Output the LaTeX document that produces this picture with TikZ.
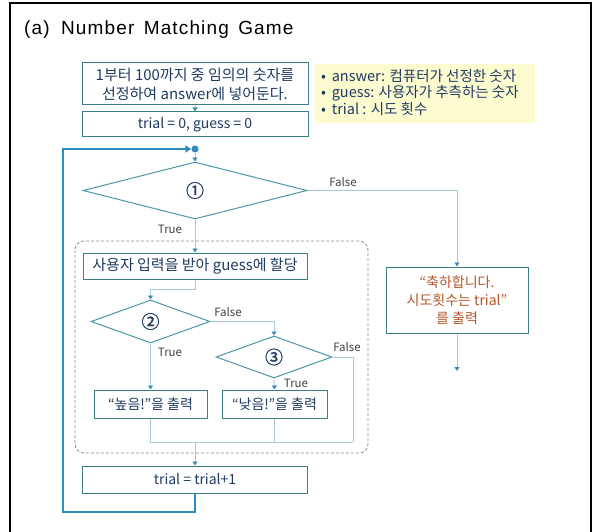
\documentclass[tikz,border=0pt]{standalone}
\usepackage{fontspec}
\setmainfont{Noto Sans CJK KR}
\newfontfamily\titlefont{Liberation Sans}[LetterSpace=6]
\newfontfamily\circfont{Noto Sans CJK KR}[FakeBold=1.2]
\usetikzlibrary{shapes.geometric,arrows.meta}

\definecolor{boxline}{HTML}{3E7D8A}
\definecolor{dialine}{HTML}{4C97A8}
\definecolor{flowline}{HTML}{A9CAD4}
\definecolor{tipblue}{HTML}{3A8DB8}
\definecolor{loopblue}{HTML}{2F8BBF}
\definecolor{navy}{HTML}{1F3B63}
\definecolor{labelgray}{HTML}{404040}
\definecolor{noteyellow}{HTML}{FDFBD0}
\definecolor{brownred}{HTML}{B5562A}
\definecolor{dashgray}{HTML}{8094A2}

\tikzset{
  procbox/.style={draw=boxline, line width=1pt, fill=white, rectangle,
    inner sep=0pt, font=\fontsize{14}{18}\selectfont, text=navy, align=center},
  bigtext/.style={font=\fontsize{15}{19}\selectfont},
  decision/.style={draw=dialine, line width=1pt, diamond, inner sep=0pt,
    font=\circfont\fontsize{18}{18}\selectfont, text=navy},
  flow/.style={draw=flowline, line width=0.8pt},
  tip/.style={-{Triangle[width=5pt,length=4pt,color=tipblue]}},
  lbl/.style={font=\fontsize{11.5}{11.5}\selectfont, text=labelgray, inner sep=0pt},
  loopline/.style={draw=loopblue, line width=2.2pt,
    -{Triangle[width=7pt,length=6pt]}},
}

\begin{document}
\begin{tikzpicture}[x=1pt,y=-1pt]
\useasboundingbox (0,0) rectangle (594,532);

% outer frame, open at the bottom
\draw[black, line width=1.5pt] (10,533) -- (10,3) -- (591,3) -- (591,533);

% title
\node[anchor=west, inner sep=0pt, font=\titlefont\fontsize{19}{19}\selectfont]
  (title) at (24,30) {(a)\hspace{5pt} Number\hspace{3pt} Matching\hspace{3pt} Game};

% initialisation
\node[procbox, bigtext, minimum width=226pt, minimum height=42pt] (box1) at (195,84)
  {1부터 100까지 중 임의의 숫자를\\선정하여 answer에 넣어둔다.};
\node[procbox, minimum width=226pt, minimum height=25pt] (box2) at (195,124.5)
  {trial = 0, guess = 0};

% legend of variables
\node[fill=noteyellow, minimum width=220pt, minimum height=59pt, inner sep=0pt,
  anchor=north west] (note) at (315,64) {};
\node[anchor=north west, inner sep=0pt, align=left, text=navy,
  font=\fontsize{14.5}{16.5}\selectfont] (notetext) at (321,69)
  {• \,answer: 컴퓨터가 선정한 숫자\\• \,guess: 사용자가 추측하는 숫자\\• \,trial : 시도 횟수};

% junction of the loop
\node[circle, fill=loopblue, inner sep=0pt, minimum size=7pt] (dot) at (195,149) {};

% main condition
\node[decision, minimum width=224pt, minimum height=57pt] (d1) at (195,190.5) {①};

% loop body
\draw[dashgray, dashed, dash pattern=on 3pt off 2pt, line width=0.8pt,
  rounded corners=9pt] (75,241) rectangle (368,453);
\node[procbox, bigtext, minimum width=224pt, minimum height=26pt] (box3) at (195,266)
  {사용자 입력을 받아 guess에 할당};
\node[decision, minimum width=119pt, minimum height=43pt] (d2) at (150.5,321.5) {②};
\node[decision, minimum width=116pt, minimum height=42pt] (d3) at (274,357) {③};
\node[procbox, minimum width=113pt, minimum height=28pt] (hi) at (150.5,404)
  {“높음!”을 출력};
\node[procbox, minimum width=105pt, minimum height=28pt] (lo) at (274.5,404)
  {“낮음!”을 출력};
\coordinate (mergeR) at (353,442);
\coordinate (merge) at (195,442);

\node[procbox, minimum width=225pt, minimum height=27pt] (trial) at (195,479.5)
  {trial = trial+1};

% final output
\node[procbox, text=brownred, minimum width=142pt, minimum height=66pt] (cg) at (457,300)
  {“축하합니다.\\시도횟수는 trial”\\를 출력};
\coordinate (endpt) at (457,371);
\coordinate (loopBL) at (63,512);

% connectors
\draw[flow,tip] (box1) -- (box2);
\draw[flow,tip] (dot) -- (d1.north);
\draw[flow,tip] (d1.east) -| (cg.north);
\draw[flow,tip] (d1.south) -- (box3.north);
\draw[flow,tip] (box3.south) -- ++(0,10) -| (d2.north);
\draw[flow,tip] (d2.east) -| (d3.north);
\draw[flow,tip] (d2.south) -- (hi.north);
\draw[flow,tip] (d3.south) -- (lo.north);
\draw[flow] (d3.east) -| (mergeR);
\draw[flow] (hi.south) |- (mergeR);
\draw[flow] (lo.south) -- (lo.south |- mergeR);
\draw[flow,tip] (merge) -- (trial.north);
\draw[flow,tip] (cg.south) -- (endpt);
\draw[loopline] (trial.south) |- (loopBL) |- (dot.west);

% branch labels
\node[lbl] (f1) at (343,182) {False};
\node[lbl] (t1) at (170,229) {True};
\node[lbl] (f2) at (228,312) {False};
\node[lbl] (t2) at (170,352) {True};
\node[lbl] (f3) at (347,347) {False};
\node[lbl] (t3) at (296,383) {True};
\end{tikzpicture}
\end{document}
